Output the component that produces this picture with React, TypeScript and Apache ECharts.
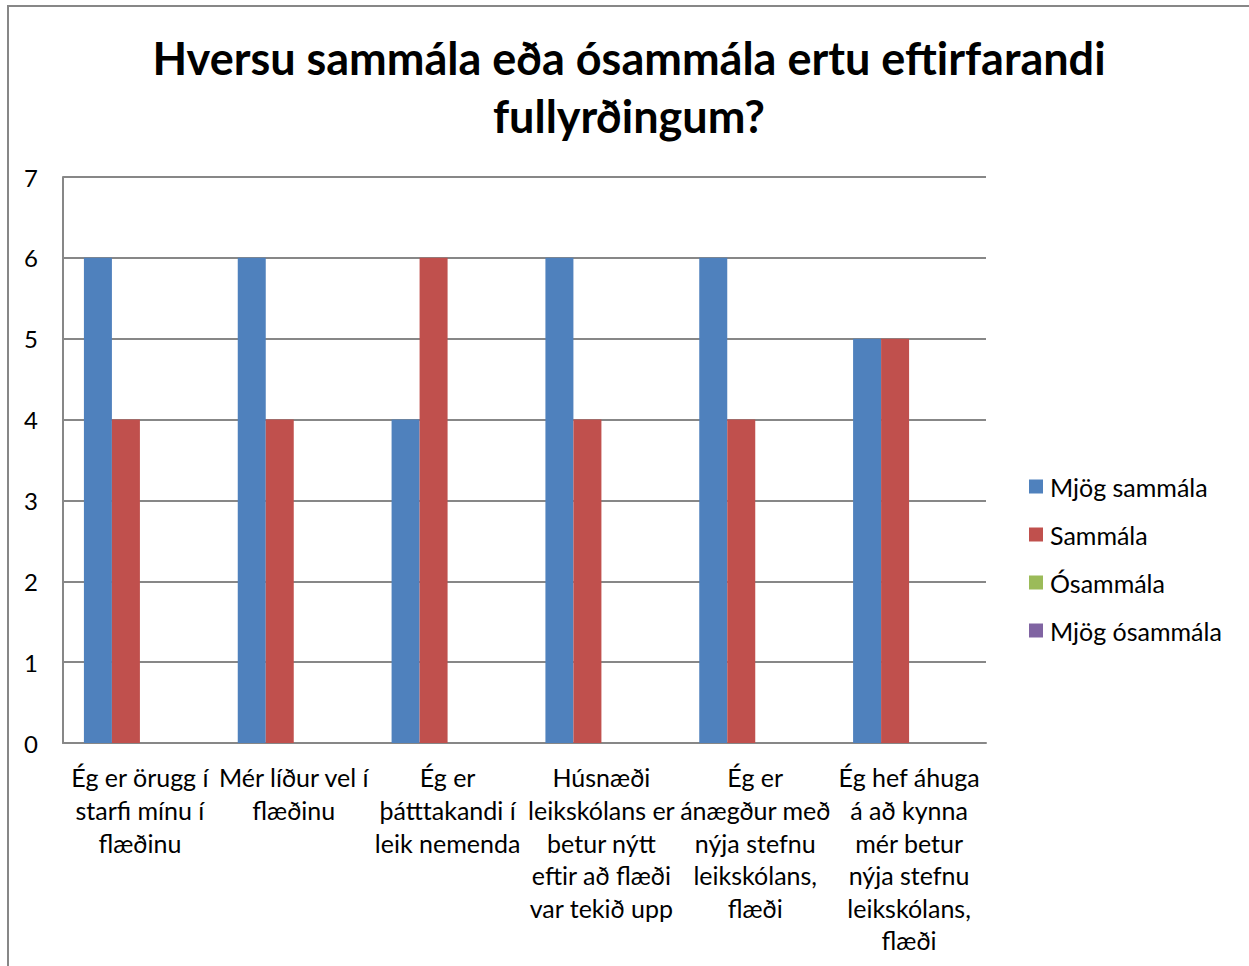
import React, { useEffect, useRef } from "react";
import * as echarts from "echarts";

const titleText = "Hversu sammála eða ósammála ertu eftirfarandi\nfullyrðingum?";
const categories = [
  "Ég er örugg í\nstarfi mínu í\nflæðinu",
  "Mér líður vel í\nflæðinu",
  "Ég er\nþátttakandi í\nleik nemenda",
  "Húsnæði\nleikskólans er\nbetur nýtt\neftir að flæði\nvar tekið upp",
  "Ég er\nánægður með\nnýja stefnu\nleikskólans,\nflæði",
  "Ég hef áhuga\ná að kynna\nmér betur\nnýja stefnu\nleikskólans,\nflæði",
];
const seriesNames = ["Mjög sammála", "Sammála", "Ósammála", "Mjög ósammála"];
const mjogSammala = [6, 6, 4, 6, 6, 5];
const sammala = [4, 4, 6, 4, 4, 5];
const osammala = [0, 0, 0, 0, 0, 0];
const mjogOsammala = [0, 0, 0, 0, 0, 0];
const colors = ["#4F81BD", "#C0504D", "#9BBB59", "#8064A2"];

const FONT = "Lato, 'Open Sans', sans-serif";

export default function App() {
  const ref = useRef<HTMLDivElement>(null);
  useEffect(() => {
    if (!ref.current) return;
    const chart = echarts.init(ref.current, null, { renderer: "svg" });
    const values = [mjogSammala, sammala, osammala, mjogOsammala];
    chart.setOption({
      animation: false,
      color: colors,
      textStyle: { fontFamily: FONT },
      graphic: [
        {
          type: "rect",
          shape: { x: 8, y: 6, width: 1300, height: 1000 },
          style: { fill: "none", stroke: "#878787", lineWidth: 2 },
          silent: true,
          z: -10,
        },
        {
          type: "text",
          x: 629,
          y: 29,
          style: {
            text: titleText,
            font: `bold 45px ${FONT}`,
            fill: "#000",
            textAlign: "center",
            textVerticalAlign: "top",
            lineHeight: 58,
          },
        },
      ],
      grid: { left: 63, top: 177, width: 923, height: 566, containLabel: false },
      legend: {
        orient: "vertical",
        left: 1024,
        top: 469,
        itemWidth: 14,
        itemHeight: 14,
        itemGap: 23,
        icon: "rect",
        data: seriesNames,
        textStyle: { fontSize: 25, color: "#000", lineHeight: 25, padding: [0, 0, 0, 2], fontFamily: FONT },
      },
      xAxis: {
        type: "category",
        data: categories,
        axisLine: { show: true, lineStyle: { color: "#878787", width: 2 } },
        axisTick: { show: false },
        axisLabel: {
          interval: 0,
          color: "#000",
          fontSize: 25,
          lineHeight: 32.6,
          margin: 18,
          fontFamily: FONT,
          verticalAlign: "top",
        },
      },
      yAxis: {
        type: "value",
        min: 0,
        max: 7,
        interval: 1,
        axisLine: { show: true, lineStyle: { color: "#878787", width: 2 } },
        axisTick: { show: false },
        splitLine: { show: true, lineStyle: { color: "#878787", width: 2 } },
        axisLabel: { color: "#000", fontSize: 24, margin: 25, fontFamily: FONT },
      },
      series: seriesNames.map((name, i) => ({
        name,
        type: "bar",
        data: values[i],
        barWidth: 28,
        barGap: "0%",
        itemStyle: { color: colors[i] },
      })),
    });
    return () => chart.dispose();
  }, []);
  return (
    <div
      ref={ref}
      style={{ position: "absolute", left: 0, top: 0, width: 1249, height: 966, background: "#fff" }}
    />
  );
}
